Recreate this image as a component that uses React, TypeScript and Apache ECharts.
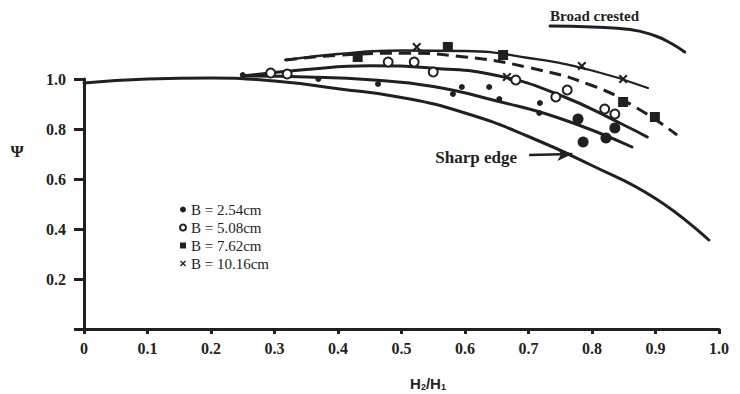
import React, { useEffect, useRef } from "react";
import * as echarts from "echarts";

const INK = "#231f20";
const SERIF = '"Liberation Serif", "Times New Roman", serif';
const SANS = '"Liberation Sans", Arial, sans-serif';

// axis ticks
const xTickValues = [0, 0.1, 0.2, 0.3, 0.4, 0.5, 0.6, 0.7, 0.8, 0.9, 1.0];
const yTickValues = [0, 0.2, 0.4, 0.6, 0.8, 1.0];

// fitted curves [H2/H1, psi]
const sharpEdgeCurve = [
  [0, 0.984], [0.1, 1.0], [0.2, 1.004], [0.3, 0.992], [0.4, 0.961], [0.5, 0.926],
  [0.6, 0.864], [0.7, 0.77], [0.8, 0.654], [0.9, 0.522], [0.984, 0.356],
];
const curveB254 = [
  [0.25, 1.012], [0.35, 1.008], [0.45, 0.997], [0.55, 0.97], [0.65, 0.912],
  [0.75, 0.842], [0.863, 0.728],
];
const curveB508 = [
  [0.25, 1.012], [0.35, 1.038], [0.45, 1.053], [0.55, 1.043], [0.65, 1.014],
  [0.75, 0.935], [0.85, 0.816], [0.887, 0.768],
];
const curveB762 = [
  [0.317, 1.076], [0.4, 1.095], [0.5, 1.103], [0.6, 1.088], [0.7, 1.046],
  [0.8, 0.974], [0.87, 0.885], [0.934, 0.776],
];
const curveB1016 = [
  [0.317, 1.076], [0.4, 1.1], [0.5, 1.114], [0.6, 1.112], [0.7, 1.084],
  [0.8, 1.034], [0.888, 0.964],
];
const broadCrestedCurve = [
  [0.734, 1.212], [0.8, 1.208], [0.86, 1.198], [0.9, 1.172], [0.925, 1.142], [0.946, 1.108],
];

// measured points
const pointsB254 = [
  [0.25, 1.016], [0.369, 1.0], [0.463, 0.98], [0.581, 0.94], [0.595, 0.968], [0.638, 0.968],
  [0.654, 0.92], [0.718, 0.904], [0.717, 0.864], [0.778, 0.84], [0.786, 0.748],
  [0.822, 0.764], [0.836, 0.804],
];
const pointsB508 = [
  [0.294, 1.024], [0.32, 1.02], [0.479, 1.068], [0.52, 1.068], [0.55, 1.028], [0.68, 0.996],
  [0.743, 0.928], [0.761, 0.956], [0.82, 0.88], [0.836, 0.86],
];
const pointsB762 = [
  [0.431, 1.088], [0.573, 1.128], [0.66, 1.096], [0.849, 0.908], [0.899, 0.848],
];
const pointsB1016 = [
  [0.524, 1.128], [0.666, 1.008], [0.784, 1.052], [0.849, 1.0],
];

const sharpEdgeArrow = [[0.701, 0.696], [0.769, 0.7]];

const legendNames = ["B = 2.54cm", "B = 5.08cm", "B = 7.62cm", "B = 10.16cm"];

const CROSS =
  "path://M0,1.6 L1.6,0 L5,3.4 L8.4,0 L10,1.6 L6.6,5 L10,8.4 L8.4,10 L5,6.6 L1.6,10 L0,8.4 L3.4,5 Z";

export default function App() {
  const ref = useRef<HTMLDivElement>(null);

  useEffect(() => {
    if (!ref.current) return;
    const chart = echarts.init(ref.current, null, { renderer: "svg" });

    const lineSeries = (name: string, data: number[][], extra: any = {}) => ({
      name,
      type: "line",
      data,
      smooth: 0.5,
      symbol: "none",
      clip: false,
      silent: true,
      z: 2,
      lineStyle: { color: INK, width: 3, cap: "round", ...(extra.lineStyle || {}) },
      ...(extra.rest || {}),
    });

    const option: any = {
      animation: false,
      backgroundColor: "#ffffff",
      grid: { left: 84, right: 21, top: 79, bottom: 65, outerBoundsMode: "none" },
      xAxis: {
        type: "value",
        min: 0,
        max: 1.0,
        interval: 0.1,
        axisLine: { show: true, lineStyle: { color: INK, width: 3 } },
        axisTick: { show: true, length: 5, lineStyle: { color: INK, width: 3 } },
        splitLine: { show: false },
        axisLabel: {
          margin: 11,
          color: INK,
          fontFamily: SERIF,
          fontWeight: "bold",
          fontSize: 16,
          formatter: (v: number) => {
            const t = xTickValues.find((k) => Math.abs(k - v) < 1e-6);
            if (t === undefined) return "";
            return t === 0 ? "0" : t.toFixed(1);
          },
        },
      },
      yAxis: {
        type: "value",
        min: 0,
        max: 1.0,
        interval: 0.2,
        axisLine: { show: true, lineStyle: { color: INK, width: 3 } },
        axisTick: { show: true, length: 10, lineStyle: { color: INK, width: 3 } },
        splitLine: { show: false },
        axisLabel: {
          margin: 18,
          color: INK,
          fontFamily: SERIF,
          fontWeight: "bold",
          fontSize: 16,
          formatter: (v: number) => {
            const t = yTickValues.find((k) => Math.abs(k - v) < 1e-6);
            if (t === undefined || t === 0) return "";
            return t.toFixed(1);
          },
        },
      },
      legend: {
        orient: "vertical",
        left: 174,
        top: 197,
        itemWidth: 6,
        itemHeight: 6,
        itemGap: 3,
        selectedMode: false,
        itemStyle: { borderWidth: 1, opacity: 1 },
        textStyle: { color: INK, fontFamily: SERIF, fontSize: 15, lineHeight: 15 },
        data: [
          { name: legendNames[0], icon: "circle" },
          { name: legendNames[1], icon: "emptyCircle" },
          { name: legendNames[2], icon: "rect" },
          { name: legendNames[3], icon: CROSS },
        ],
      },
      series: [
        lineSeries("Sharp edge", sharpEdgeCurve, {
          rest: {
            markLine: {
              silent: true,
              symbol: ["none", "arrow"],
              symbolSize: [10, 15],
              label: { show: false },
              lineStyle: { color: INK, width: 2.5, type: "solid" },
              data: [[{ coord: sharpEdgeArrow[0] }, { coord: sharpEdgeArrow[1] }]],
            },
          },
        }),
        lineSeries("fit 2.54", curveB254),
        lineSeries("fit 5.08", curveB508),
        lineSeries("fit 7.62", curveB762, { lineStyle: { type: [12, 7], cap: "butt" } }),
        lineSeries("fit 10.16", curveB1016, { lineStyle: { width: 2.3 } }),
        lineSeries("Broad crested", broadCrestedCurve),
        {
          name: legendNames[0],
          type: "scatter",
          data: pointsB254,
          clip: false,
          z: 5,
          symbol: "circle",
          symbolSize: (v: number[]) => (v[0] > 0.77 ? 11 : 6),
          itemStyle: { color: INK, opacity: 1 },
        },
        {
          name: legendNames[1],
          type: "scatter",
          data: pointsB508,
          clip: false,
          z: 5,
          symbol: "emptyCircle",
          symbolSize: 9,
          itemStyle: { color: INK, borderColor: INK, borderWidth: 1.2, opacity: 1 },
        },
        {
          name: legendNames[2],
          type: "scatter",
          data: pointsB762,
          clip: false,
          z: 5,
          symbol: "rect",
          symbolSize: 10,
          itemStyle: { color: INK, opacity: 1 },
        },
        {
          name: legendNames[3],
          type: "scatter",
          data: pointsB1016,
          clip: false,
          z: 5,
          symbol: CROSS,
          symbolSize: 9,
          itemStyle: { color: INK, opacity: 1 },
        },
      ],
      graphic: [
        {
          type: "text",
          x: 17,
          y: 151,
          style: {
            text: "Ψ",
            font: `bold 17px ${SERIF}`,
            fill: INK,
            align: "center",
            verticalAlign: "middle",
          },
        },
        {
          type: "text",
          x: 428,
          y: 383,
          style: {
            text: "{h|H}{s|2}{h|/H}{s|1}",
            align: "center",
            verticalAlign: "middle",
            rich: {
              h: { fontFamily: SANS, fontWeight: "bold", fontSize: 15, fill: INK, lineHeight: 16, verticalAlign: "bottom" },
              s: { fontFamily: SANS, fontWeight: "bold", fontSize: 9, fill: INK, lineHeight: 16, verticalAlign: "bottom" },
            },
          },
        },
        {
          type: "text",
          x: 550,
          y: 16,
          style: {
            text: "Broad crested",
            font: `bold 15px ${SERIF}`,
            fill: INK,
            align: "left",
            verticalAlign: "middle",
          },
        },
        {
          type: "text",
          x: 517,
          y: 157,
          style: {
            text: "Sharp edge",
            font: `bold 17px ${SERIF}`,
            fill: INK,
            align: "right",
            verticalAlign: "middle",
          },
        },
      ],
    };

    chart.setOption(option);
    return () => chart.dispose();
  }, []);

  return (
    <div
      ref={ref}
      style={{ position: "fixed", left: 0, top: 0, width: 740, height: 394, background: "#fff" }}
    />
  );
}
